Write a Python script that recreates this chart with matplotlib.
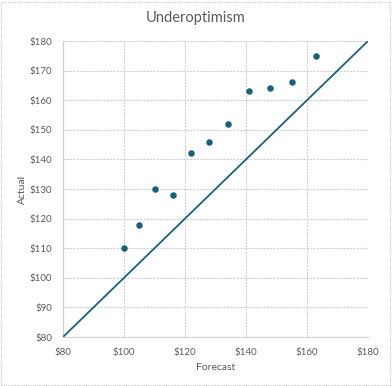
import matplotlib
matplotlib.use("Agg")
import matplotlib.pyplot as plt
from matplotlib.patches import Rectangle

forecast = [100, 105, 110, 116, 122, 128, 134, 141, 148, 155, 163]
actual = [110, 118, 130, 128, 142, 146, 152, 163, 164, 166, 175]
line_x = [80, 180]
line_y = [80, 180]
ticks = [80, 90, 100, 110, 120, 130, 140, 150, 160, 170, 180]
xticks = [80, 100, 120, 140, 160, 180]

plt.rcParams['font.family'] = ['Lato', 'DejaVu Sans']
W, H = 392, 386
fig = plt.figure(figsize=(W/100, H/100), dpi=100)
ax = fig.add_axes([63/W, 1-337/H, (368-63)/W, (337-41)/H])

color = '#1d5f7a'
ax.plot(line_x, line_y, color=color, lw=1.3, zorder=3)
ax.scatter(forecast, actual, s=22, color=color, zorder=4, linewidths=0)

ax.set_xlim(80, 180)
ax.set_ylim(80, 180)
ax.set_xticks(xticks)
ax.set_yticks(ticks)
ax.set_xticklabels([f'${v}' for v in xticks])
ax.set_yticklabels([f'${v}' for v in ticks])
ax.grid(True, color='#d0d0d0', linestyle=(0, (2, 1)), lw=0.8)
ax.set_axisbelow(True)
for s in ['top', 'right']:
    ax.spines[s].set_visible(False)
for s in ['left', 'bottom']:
    ax.spines[s].set_color('#d0d0d0')
    ax.spines[s].set_linewidth(0.8)
ax.tick_params(length=0, labelsize=7, labelcolor='#595959', pad=8)
ax.set_xlabel('Forecast', fontsize=7.5, color='#595959', labelpad=4)
ax.set_ylabel('Actual', fontsize=7.5, color='#595959', labelpad=2)
fig.text(196/W, 1-18/H, 'Underoptimism', ha='center', va='center', fontsize=10.5, color='#595959')

fig.patches.append(Rectangle((1/W, 1/H), (W-3)/W, (H-3)/H, transform=fig.transFigure,
                             fill=False, edgecolor='#c8c8c8', lw=0.8, linestyle=(0, (1, 1))))
fig.savefig('out.png', dpi=100)
